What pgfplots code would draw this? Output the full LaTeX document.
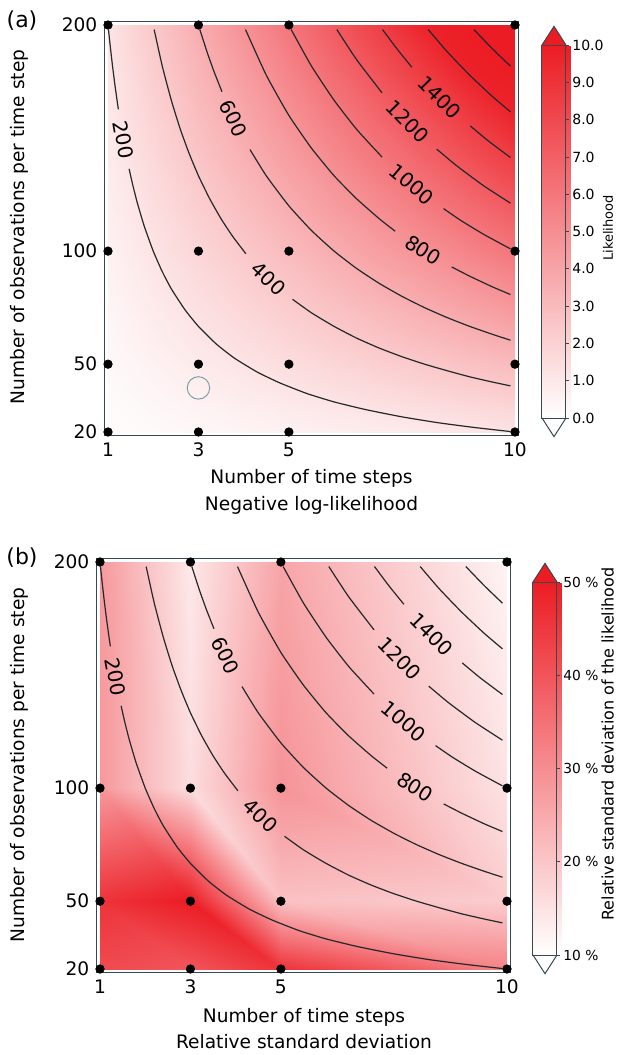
\documentclass[border=0pt]{standalone}
\usepackage{fontspec}
\setmainfont{DejaVu Sans}
\usepackage{pgfplots}
\pgfplotsset{compat=1.18}
\pgfkeys{/pgf/number format/assume math mode=true}
\definecolor{framecol}{RGB}{55,72,78}
\definecolor{topred}{RGB}{236,28,36}
\definecolor{circcol}{RGB}{125,160,168}
\definecolor{clinecol}{RGB}{35,40,42}

\pgfplotsset{
  colormap={wr}{rgb255=(255,255,255) rgb255=(236,28,36)},
  mainax/.style={
    scale only axis, width=207.1pt, height=207pt,
    xmin=0.92, xmax=10.08, ymin=18.45, ymax=201.55,
    xtick={1,3,5,10}, ytick={20,50,100,200},
    major tick length=0pt,
    axis line style={framecol, line width=0.7pt},
    tick label style={font=\fontsize{9.3}{11}\selectfont},
    clip=false,
    colormap name=wr,
  },
  cbar/.style={
    at={(parent axis.south east)}, anchor=south west,
    yshift=8.75pt,
    width=12pt, height=186.5pt,
    axis line style={framecol, line width=0.5pt},
    ytick pos=right, tick align=outside,
    major tick length=1.5pt, tick style={framecol, line width=0.4pt},
    yticklabel style={inner sep=1.5pt},
    clip=false,
    after end axis/.code={
      \fill[topred] (rel axis cs:0,1) -- (rel axis cs:0.5,1.05) -- (rel axis cs:1,1) -- cycle;
      \draw[framecol, line width=0.5pt] (rel axis cs:0,1) -- (rel axis cs:0.5,1.05) -- (rel axis cs:1,1);
      \draw[framecol, line width=0.5pt] (rel axis cs:0,0) -- (rel axis cs:0.5,-0.05) -- (rel axis cs:1,0);
    },
  },
  cline/.style={clinecol, line width=0.6pt, smooth, tension=0.3},
}
\tikzset{clabel/.style={font=\fontsize{10}{12}\selectfont, inner sep=0pt}}

\newcommand{\drawcontours}{%
  \addplot[cline] coordinates {(1.01,198) (1.05,190.5) (1.1,181.8) (1.15,173.9) (1.2,166.7) (1.229,162.7)};
  \addplot[cline] coordinates {(1.466,136.4) (1.55,129) (1.65,121.2) (1.8,111.1) (2,100) (2.2,90.9) (2.4,83.3) (2.7,74.1) (3,66.7) (3.4,58.8) (3.8,52.6) (4.3,46.5) (4.8,41.7) (5.4,37) (6,33.3) (6.7,29.9) (7.5,26.7) (8.3,24.1) (9.1,22) (9.9,20.2)};
  \addplot[cline] coordinates {(2.02,198) (2.2,181.8) (2.4,166.7) (2.6,153.8) (2.8,142.9) (3,133.3) (3.25,123.1) (3.5,114.3) (3.75,106.7) (4.05,98.8)};
  \addplot[cline] coordinates {(5.08,78.7) (5.5,72.7) (6,66.7) (6.5,61.5) (7,57.1) (7.5,53.3) (8,50) (8.5,47.1) (9,44.4) (9.5,42.1) (9.9,40.4)};
  \addplot[cline] coordinates {(3.03,198) (3.2,187.5) (3.35,179.1) (3.52,170.5)};
  \addplot[cline] coordinates {(4.14,144.9) (4.5,133.3) (5,120) (5.5,109.1) (6,100) (6.5,92.3) (7,85.7) (7.5,80) (8,75) (8.5,70.6) (9,66.7) (9.5,63.2) (9.9,60.6)};
  \addplot[cline] coordinates {(4.04,198) (4.5,177.8) (5,160) (5.5,145.5) (6,133.3) (6.5,123.1) (7,114.3) (7.35,108.8)};
  \addplot[cline] coordinates {(8.6,93) (9,88.9) (9.5,84.2) (9.9,80.8)};
  \addplot[cline] coordinates {(5.05,198) (5.5,181.8) (6,166.7) (6.5,153.8) (7.06,141.6)};
  \addplot[cline] coordinates {(8.42,118.8) (8.8,113.6) (9.3,107.5) (9.9,101)};
  \addplot[cline] coordinates {(6.06,198) (6.5,184.6) (7.06,170)};
  \addplot[cline] coordinates {(8.27,145.1) (8.7,137.9) (9.3,129) (9.9,121.2)};
  \addplot[cline] coordinates {(7.07,198) (7.4,189.2) (7.72,181.3)};
  \addplot[cline] coordinates {(9.01,155.4) (9.4,148.9) (9.9,141.4)};
  \addplot[cline] coordinates {(8.08,198) (8.5,188.2) (9,177.8) (9.5,168.4) (9.9,161.6)};
  \addplot[cline] coordinates {(9.09,198) (9.5,189.5) (9.9,181.8)};
  \node[clabel, rotate=-79.8] at (axis cs:1.34,149.3) {200};
  \node[clabel, rotate=-44.0] at (axis cs:4.55,87.9) {400};
  \node[clabel, rotate=-64.5] at (axis cs:3.78,158.7) {600};
  \node[clabel, rotate=-32.2] at (axis cs:7.97,100.4) {800};
  \node[clabel, rotate=-40.0] at (axis cs:7.72,129.5) {1000};
  \node[clabel, rotate=-45.8] at (axis cs:7.63,157.3) {1200};
  \node[clabel, rotate=-45.3] at (axis cs:8.33,168) {1400};
  \addplot[only marks, mark=*, mark size=2.1pt, black] coordinates {
    (1,20) (3,20) (5,20) (10,20) (1,50) (3,50) (5,50) (10,50)
    (1,100) (3,100) (5,100) (10,100) (1,200) (3,200) (5,200) (10,200)};
}

\begin{document}
\begin{tikzpicture}
\path[use as bounding box] (0,0) rectangle (308pt,-527.5pt);

% ---------- panel (a) ----------
\begin{axis}[mainax, at={(52.2pt,-217.75pt)}, anchor=south west,
  point meta min=0, point meta max=10,
  colorbar,
  colorbar style={cbar, xshift=3.16pt,
    ytick={0,1,...,10},
    yticklabel={\pgfmathprintnumber[fixed,fixed zerofill,precision=1]{\tick}},
    yticklabel style={font=\fontsize{7}{8}\selectfont},
  },
]
\addplot[surf, shader=interp, mesh/cols=10, point meta=explicit] table[meta=v] {
T N v
1 20 0.12
2 20 0.24
3 20 0.36
4 20 0.48
5 20 0.61
6 20 0.73
7 20 0.85
8 20 0.97
9 20 1.09
10 20 1.21
1 40 0.24
2 40 0.48
3 40 0.73
4 40 0.97
5 40 1.21
6 40 1.45
7 40 1.70
8 40 1.94
9 40 2.18
10 40 2.42
1 60 0.36
2 60 0.73
3 60 1.09
4 60 1.45
5 60 1.82
6 60 2.18
7 60 2.55
8 60 2.91
9 60 3.27
10 60 3.64
1 80 0.48
2 80 0.97
3 80 1.45
4 80 1.94
5 80 2.42
6 80 2.91
7 80 3.39
8 80 3.88
9 80 4.36
10 80 4.85
1 100 0.61
2 100 1.21
3 100 1.82
4 100 2.42
5 100 3.03
6 100 3.64
7 100 4.24
8 100 4.85
9 100 5.45
10 100 6.06
1 120 0.73
2 120 1.45
3 120 2.18
4 120 2.91
5 120 3.64
6 120 4.36
7 120 5.09
8 120 5.82
9 120 6.55
10 120 7.27
1 140 0.85
2 140 1.70
3 140 2.55
4 140 3.39
5 140 4.24
6 140 5.09
7 140 5.94
8 140 6.79
9 140 7.64
10 140 8.48
1 160 0.97
2 160 1.94
3 160 2.91
4 160 3.88
5 160 4.85
6 160 5.82
7 160 6.79
8 160 7.76
9 160 8.73
10 160 9.70
1 180 1.09
2 180 2.18
3 180 3.27
4 180 4.36
5 180 5.45
6 180 6.55
7 180 7.64
8 180 8.73
9 180 9.82
10 180 10
1 200 1.21
2 200 2.42
3 200 3.64
4 200 4.85
5 200 6.06
6 200 7.27
7 200 8.48
8 200 9.70
9 200 10
10 200 10
};
\drawcontours
\addplot[only marks, mark=o, mark size=5.6pt, circcol, line width=0.5pt] coordinates {(3,39.5)};
\end{axis}

% ---------- panel (b) ----------
\begin{axis}[mainax, at={(48.2pt,-486.25pt)}, anchor=south west,
  point meta min=10, point meta max=50,
  colorbar,
  colorbar style={cbar, xshift=2.66pt,
    ytick={10,20,30,40,50},
    yticklabel={\pgfmathprintnumber{\tick} \%},
    yticklabel style={font=\fontsize{6.9}{8}\selectfont},
  },
]
\addplot[surf, shader=interp, mesh/cols=4, point meta=explicit] table[meta=v] {
T N v
1 20 42
3 20 40
5 20 46
10 20 32
1 50 46
3 50 50
5 50 21
10 50 19
1 100 28
3 100 16
5 100 29
10 100 15
1 200 28
3 200 14
5 200 26
10 200 12
};
\drawcontours
\end{axis}

% ---------- text outside the axes ----------
\node[font=\fontsize{11}{13}\selectfont] at (11pt,-10.5pt) {(a)};
\node[font=\fontsize{11}{13}\selectfont] at (11pt,-279pt) {(b)};
\node[rotate=90, font=\fontsize{9.3}{11}\selectfont] at (9.75pt,-113.5pt) {Number of observations per time step};
\node[rotate=90, font=\fontsize{9.3}{11}\selectfont] at (9.75pt,-382.5pt) {Number of observations per time step};
\node[anchor=base, font=\fontsize{9.3}{11}\selectfont] at (155.75pt,-241.5pt) {Number of time steps};
\node[anchor=base, font=\fontsize{9.3}{11}\selectfont] at (155.75pt,-255pt) {Negative log-likelihood};
\node[anchor=base, font=\fontsize{9.3}{11}\selectfont] at (152pt,-511pt) {Number of time steps};
\node[anchor=base, font=\fontsize{9.3}{11}\selectfont] at (152pt,-524pt) {Relative standard deviation};
\node[rotate=90, inner sep=1pt, font=\fontsize{6.5}{8}\selectfont] at (304pt,-114pt) {Likelihood};
\node[rotate=90, inner sep=1pt, font=\fontsize{8}{10}\selectfont] at (303.8pt,-372pt) {Relative standard deviation of the likelihood};
\end{tikzpicture}
\end{document}
